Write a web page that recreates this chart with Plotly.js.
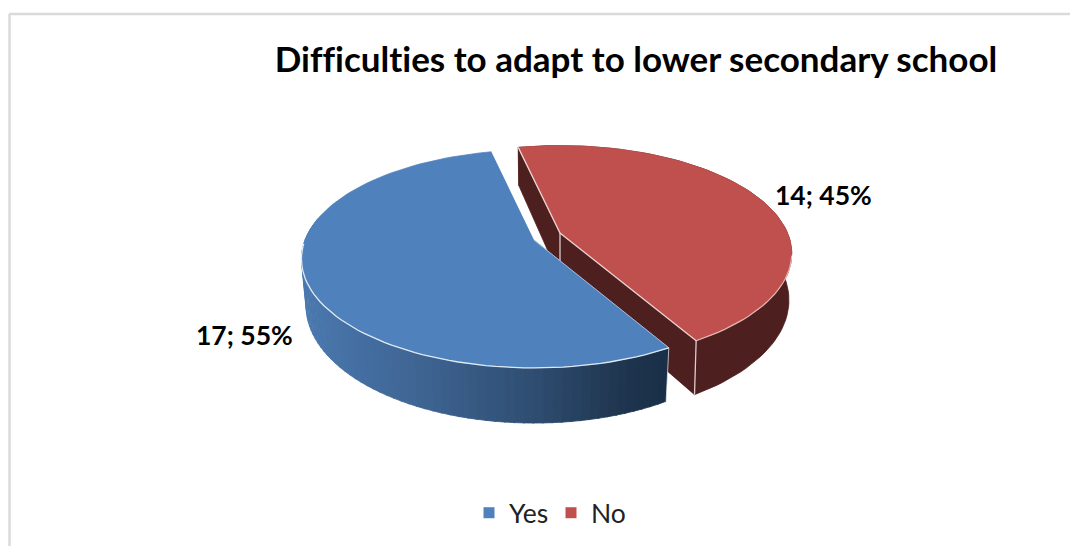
<!DOCTYPE html>
<html>
<head>
<meta charset="utf-8">
<script src="https://cdn.plot.ly/plotly-3.0.1.min.js"></script>
<style>html,body{margin:0;padding:0;background:#fff}#chart{width:1070px;height:546px}svg text{font-variant-ligatures:none !important;font-feature-settings:"liga" 0,"clig" 0 !important}</style>
</head>
<body>
<div id="chart"></div>
<script>
// Survey result
const categories = ['Yes', 'No'];
const counts = [17, 14];
const topColors = ['#4F81BD', '#C0504D'];
const chartTitle = 'Difficulties to adapt to lower secondary school';

const total = counts.reduce((a, b) => a + b, 0);
const firstSliceAngle = 150;          // degrees clockwise from twelve o'clock

// Perspective view of each exploded wedge: a ground-plane circle projected to the page.
const views = [
  {cx: 534, cy: 240, a: 229, b: 105.7, k: 0.174, depth: 45.5, taper: 0.02},
  {cx: 560, cy: 233, a: 227.5, b: 104, k: 0.19, depth: 45, taper: 0.012}
];
const labelAt = [{x: 244, y: 335}, {x: 823, y: 195}];

function project(v, rx, ry, z) {
  const w = 1 - v.k * ry;
  return [v.cx + v.a * rx / w * (1 - v.taper * z), v.cy + (v.b * ry + v.depth * z) / w];
}
function rim(v, deg, z) {
  const t = deg * Math.PI / 180;
  return project(v, Math.sin(t), -Math.cos(t), z);
}
function arc(v, from, to, z) {
  const n = Math.max(2, Math.ceil(Math.abs(to - from) / 2));
  const pts = [];
  for (let i = 0; i <= n; i++) pts.push(rim(v, from + (to - from) * i / n, z));
  return pts;
}
function poly(pts, fill, line) {
  return {
    type: 'scatter', mode: 'lines', x: pts.map(p => p[0]), y: pts.map(p => p[1]),
    fill: 'toself', fillcolor: fill, line: {color: line || fill, width: line ? 1 : 0.8},
    hoverinfo: 'skip', showlegend: false
  };
}
function edge(pts, color, width) {
  return {
    type: 'scatter', mode: 'lines', x: pts.map(p => p[0]), y: pts.map(p => p[1]),
    line: {color: color, width: width}, hoverinfo: 'skip', showlegend: false
  };
}

// Slice angles derived from the counts
const spans = [];
let running = firstSliceAngle;
counts.forEach(c => {
  const sweep = 360 * c / total;
  spans.push([running, running + sweep]);
  running += sweep;
});

// Horizontal shading of the blue outer wall
const wallStops = [[303, [74, 120, 175]], [420, [62, 100, 146]], [530, [47, 78, 114]], [620, [31, 54, 80]], [667, [26, 47, 71]]];
function wallColor(x) {
  for (let i = 1; i < wallStops.length; i++) {
    if (x <= wallStops[i][0]) {
      const [x0, c0] = wallStops[i - 1], [x1, c1] = wallStops[i];
      const f = Math.max(0, (x - x0) / (x1 - x0));
      return 'rgb(' + c0.map((c, j) => Math.round(c + (c1[j] - c) * f)).join(',') + ')';
    }
  }
  return 'rgb(26,47,71)';
}

const traces = [];
const darkRed = '#4D1F1E';
const edgeLight = 'rgba(245,235,235,0.85)';

// "No" wedge: walls first, top surface over them
{
  const v = views[1], [s, e] = spans[1];
  const apexTop = project(v, 0, 0, 0), apexBot = project(v, 0, 0, 1);
  const startWall = [apexTop, rim(v, s, 0), rim(v, s, 1), apexBot];
  const endWall = [apexTop, rim(v, e, 0), rim(v, e, 1), apexBot];
  const outer = arc(v, s, e, 0).concat(arc(v, e, s, 1));
  traces.push(poly(outer, darkRed), poly(startWall, darkRed), poly(endWall, darkRed));
  traces.push(poly([apexTop].concat(arc(v, s, e, 0)), topColors[1]));
  traces.push(edge([rim(v, s, 0), apexTop, rim(v, e, 0)], edgeLight, 1.3));
  traces.push(edge(arc(v, e, e - 48, 0), 'rgba(245,225,225,0.7)', 1.2));
  traces.push(edge([apexTop, apexBot], edgeLight, 1.3));
  traces.push(edge([rim(v, e, 0), rim(v, e, 1)], edgeLight, 1.3));
}

// "Yes" wedge: shaded outer wall in narrow strips, then the top surface
{
  const v = views[0], [s, e] = spans[0];
  const wallEnd = 282;
  for (let d = s; d < wallEnd; d += 2) {
    const next = Math.min(d + 2.3, wallEnd);
    const a0 = rim(v, d, 0), a1 = rim(v, next, 0), b1 = rim(v, next, 1), b0 = rim(v, d, 1);
    traces.push(poly([a0, a1, b1, b0], wallColor((a0[0] + a1[0]) / 2)));
  }
  const apexTop = project(v, 0, 0, 0);
  traces.push(poly([apexTop].concat(arc(v, s, e, 0)), topColors[0]));
  traces.push(edge(arc(v, s, 268, 0), 'rgba(240,245,250,0.9)', 1.3));
  traces.push(edge([apexTop, rim(v, s, 0)], 'rgba(240,245,250,0.55)', 1));
  traces.push(edge([rim(v, s, 0), rim(v, s, 1)], 'rgba(235,240,245,0.7)', 1));
}

// Legend entries
categories.forEach((name, i) => traces.push({
  type: 'scatter', mode: 'markers', x: [null], y: [null], name: name,
  marker: {symbol: 'square', size: 11, color: topColors[i]}, hoverinfo: 'skip'
}));

const layout = {
  width: 1070, height: 546,
  margin: {l: 0, r: 0, t: 0, b: 0},
  paper_bgcolor: '#fff', plot_bgcolor: '#fff',
  title: {
    text: chartTitle, x: 636 / 1070, xanchor: 'center', y: 1 - 60 / 546, yanchor: 'middle',
    font: {family: 'Lato, Carlito, sans-serif', size: 35, color: '#000', weight: 700}
  },
  xaxis: {range: [0, 1070], visible: false, fixedrange: true},
  yaxis: {range: [546, 0], visible: false, fixedrange: true},
  showlegend: true,
  legend: {
    orientation: 'h', x: 469 / 1070, xanchor: 'left', y: 1 - 513 / 546, yanchor: 'middle',
    font: {family: 'Lato, Carlito, sans-serif', size: 26.5, color: '#222'},
    entrywidth: 37, entrywidthmode: 'pixels', bgcolor: 'rgba(0,0,0,0)', traceorder: 'normal'
  },
  shapes: [
    {type: 'line', xref: 'paper', yref: 'paper', x0: 9 / 1070, x1: 1, y0: 1 - 14 / 546, y1: 1 - 14 / 546, line: {color: '#DADADA', width: 2.5}},
    {type: 'line', xref: 'paper', yref: 'paper', x0: 9.5 / 1070, x1: 9.5 / 1070, y0: 1 - 14 / 546, y1: 0, line: {color: '#DADADA', width: 2.5}}
  ],
  annotations: counts.map((c, i) => ({
    x: labelAt[i].x, y: labelAt[i].y, xref: 'x', yref: 'y', showarrow: false,
    text: c + '; ' + Math.round(100 * c / total) + '%',
    font: {family: 'Lato, Carlito, sans-serif', size: 26.5, color: '#000', weight: 700}
  }))
};

Plotly.newPlot('chart', traces, layout, {displayModeBar: false, staticPlot: true});
</script>
</body>
</html>
